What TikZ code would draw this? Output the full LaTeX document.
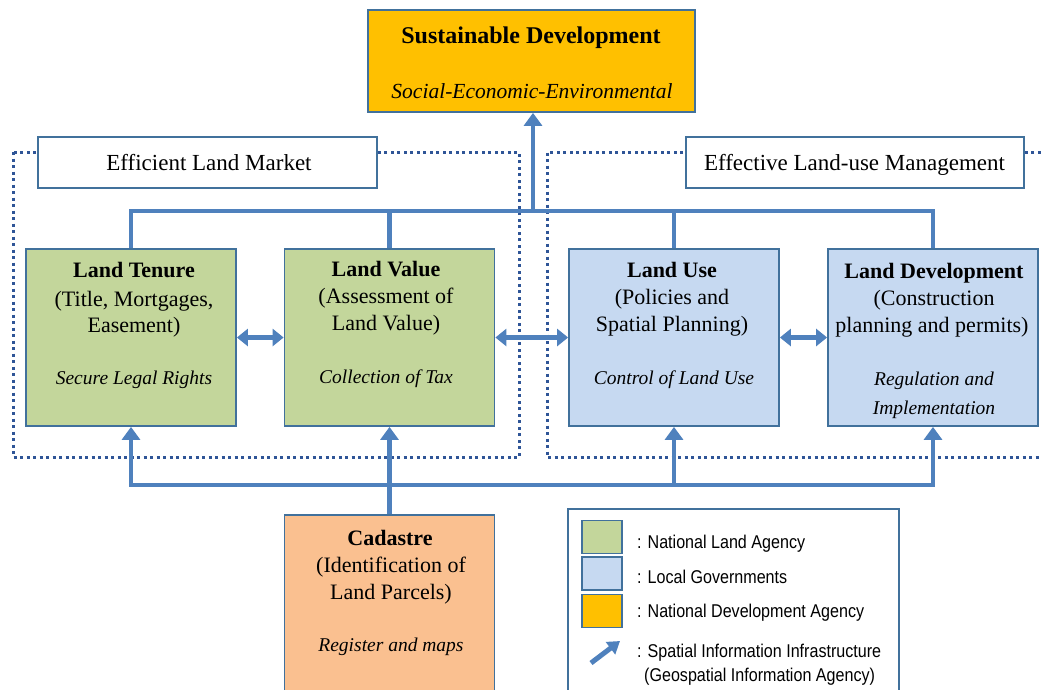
\documentclass[tikz,border=0pt]{standalone}
\usepackage{fontspec}
\setmainfont{Liberation Serif}
\newfontfamily\legfont[FakeStretch=0.87]{Liberation Sans}
\usetikzlibrary{arrows.meta,calc}
\definecolor{conn}{HTML}{4F81BD}
\definecolor{bord}{HTML}{41719C}
\definecolor{dotc}{HTML}{2F5597}
\definecolor{gfill}{HTML}{C3D69B}
\definecolor{bfill}{HTML}{C6D9F1}
\definecolor{ofill}{HTML}{FFC000}
\definecolor{cfill}{HTML}{FAC090}
\tikzset{
  box/.style={draw=bord, line width=1.8pt, minimum width=210pt, minimum height=177pt, inner sep=0pt},
  lbox/.style={draw=bord, line width=1.8pt, fill=white, minimum width=339pt, minimum height=51pt, inner sep=0pt},
  swatch/.style={draw=bord, line width=1.6pt, minimum width=40pt, minimum height=33pt, inner sep=0pt},
  dots/.style={draw=dotc, line width=3pt, dash pattern=on 3pt off 3.5pt},
  bus/.style={draw=conn, line width=4.5pt},
  arr/.style={draw=conn, line width=4.5pt, -{Triangle[width=18pt,length=13pt]}},
  darr/.style={draw=conn, line width=4.5pt, {Triangle[width=17pt,length=11pt]}-{Triangle[width=17pt,length=11pt]}},
  ttl/.style={font=\fontsize{22}{26}\selectfont\bfseries, anchor=base, inner sep=0pt},
  txt/.style={font=\fontsize{22}{26}\selectfont, anchor=base, inner sep=0pt},
  itl/.style={font=\fontsize{19.5}{23}\selectfont\itshape, anchor=base, inner sep=0pt},
  leg/.style={font=\legfont\fontsize{18.5}{22}\selectfont, anchor=base west, inner sep=0pt},
}
\begin{document}
\begin{tikzpicture}[x=1pt,y=-1pt]
\useasboundingbox (0,0) rectangle (1041,689);
\clip (0,0) rectangle (1041,689);
\fill[white] (0,0) rectangle (1041,689);

% dotted group outlines
\draw[dots] (13,152) rectangle (519,457);
\draw[dots] (1060,152) -- (547,152) -- (547,457) -- (1060,457);

% group labels
\node[lbox] (elm) at (207.5,162.5) {};
\node[lbox, minimum width=338pt] (elu) at (855,162.5) {};
\node[txt, font=\fontsize{23}{27}\selectfont] (elmt) at (209,170) {Efficient Land Market};
\node[txt, font=\fontsize{23}{27}\selectfont] (elut) at (854.5,170) {Effective Land-use Management};

% top goal
\node[draw=bord, line width=1.8pt, fill=ofill, minimum width=327pt, minimum height=102pt, inner sep=0pt] (sd) at (531.5,61) {};
\node[ttl, font=\fontsize{24}{28}\selectfont\bfseries] (sdt) at (531,43) {Sustainable Development};
\node[itl, font=\fontsize{21.5}{25}\selectfont\itshape] (sdi) at (532,98) {Social-Economic-Environmental};

% main boxes
\node[box, fill=gfill] (lt) at (131,337.5) {};
\node[box, fill=gfill] (lv) at (389.5,337.5) {};
\node[box, fill=bfill] (lu) at (674,337.5) {};
\node[box, fill=bfill] (ld) at (933,337.5) {};
\node[box, fill=cfill, minimum height=195pt] (cad) at (389.5,612.5) {};

% top bus
\coordinate (tb) at (533,211);
\draw[bus] (lt.north) |- (tb) -| (ld.north);
\draw[bus] (lv.north) -- (lv.north |- tb);
\draw[bus] (lu.north) -- (lu.north |- tb);
\draw[arr] (tb) -- (tb |- sd.south);

% bottom bus
\coordinate (bb) at (389.5,485);
\draw[arr] (bb) -| (lt.south);
\draw[arr] (bb) -| (ld.south);
\draw[arr] (cad.north) -- (lv.south);
\draw[arr] (lu.south |- bb) -- (lu.south);

% double arrows
\draw[darr] (lt.east) -- (lv.west);
\draw[darr] (lv.east) -- (lu.west);
\draw[darr] (lu.east) -- (ld.west);

% texts
\node[ttl] (ltt) at (134,277) {Land Tenure};
\node[txt] (lt1) at (134,306) {(Title, Mortgages,};
\node[txt] (lt2) at (134,332) {Easement)};
\node[itl] (lti) at (134,384) {Secure Legal Rights};

\node[ttl] (lvt) at (386,276) {Land Value};
\node[txt] (lv1) at (386,303) {(Assessment of};
\node[txt] (lv2) at (386,330) {Land Value)};
\node[itl] (lvi) at (386,383) {Collection of Tax};

\node[ttl] (lut) at (672,277) {Land Use};
\node[txt] (lu1) at (672,304) {(Policies and};
\node[txt] (lu2) at (672,331) {Spatial Planning)};
\node[itl] (lui) at (674,384) {Control of Land Use};

\node[ttl] (ldt) at (934,278) {Land Development};
\node[txt] (ld1) at (934,305) {(Construction};
\node[txt] (ld2) at (932,332) {planning and permits)};
\node[itl] (ldi1) at (934,385) {Regulation and};
\node[itl] (ldi2) at (934,414) {Implementation};

\node[ttl] (cadt) at (390,545) {Cadastre};
\node[txt] (cad1) at (391,572) {(Identification of};
\node[txt] (cad2) at (391,599) {Land Parcels)};
\node[itl] (cadi) at (391,651) {Register and maps};

% legend
\node[draw=bord, line width=1.5pt, fill=white, minimum width=331pt, minimum height=201pt, inner sep=0pt] (leg) at (733.5,609.5) {};
\node[swatch, fill=gfill] (sw1) at (602,537) {};
\node[swatch, fill=bfill] (sw2) at (602,573.5) {};
\node[swatch, fill=ofill] (sw3) at (602,611) {};
\node[leg] (l1) at (637,548) {: National Land Agency};
\node[leg] (l2) at (637,583) {: Local Governments};
\node[leg] (l3) at (637,617) {: National Development Agency};
\coordinate (la1) at (591,663);
\coordinate (la2) at (620,641);
\draw[conn, line width=5pt, -{Triangle[width=15pt,length=12pt]}] (la1) -- (la2);
\node[leg] (l4) at (637,657) {: Spatial Information Infrastructure};
\node[leg] (l5) at (644,681) {(Geospatial Information Agency)};
\end{tikzpicture}
\end{document}
